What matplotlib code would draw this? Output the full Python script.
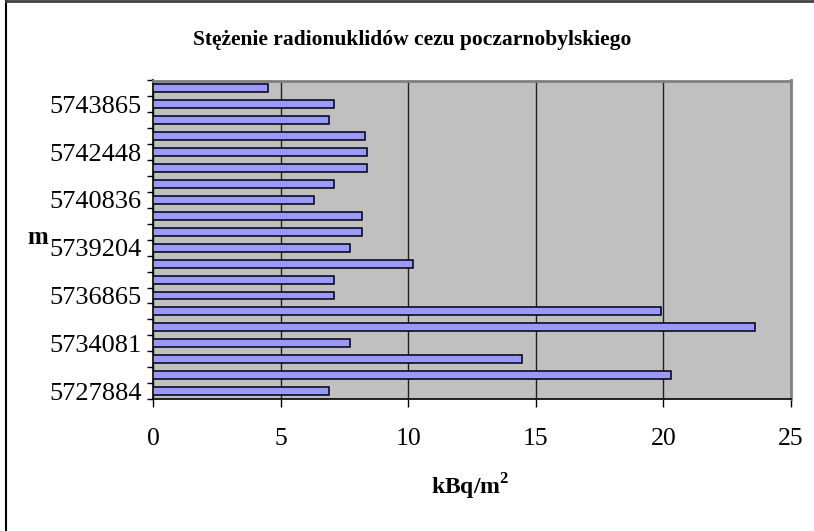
import matplotlib
matplotlib.use("Agg")
import matplotlib.pyplot as plt
from matplotlib.lines import Line2D
import numpy as np

# Data (bottom to top)
values = [6.9, 20.3, 14.45, 7.7, 23.6, 19.9, 7.1, 7.1, 10.2, 7.7,
          8.2, 8.2, 6.3, 7.1, 8.4, 8.4, 8.3, 6.9, 7.1, 4.5]
tick_labels = ["5727884", "", "", "5734081", "", "", "5736865", "", "", "5739204",
               "", "", "5740836", "", "", "5742448", "", "", "5743865", ""]
x_ticks = [0, 5, 10, 15, 20, 25]
title = "Stężenie radionuklidów cezu poczarnobylskiego"
xlabel = "kBq/m$^\\mathbf{2}$"
ylabel = "m"

plt.rcParams['font.family'] = ['Liberation Serif', 'DejaVu Serif']
plt.rcParams['mathtext.fontset'] = 'custom'
plt.rcParams['mathtext.rm'] = 'Liberation Serif'
plt.rcParams['mathtext.bf'] = 'Liberation Serif:bold'

fig = plt.figure(figsize=(8.14, 5.31), dpi=100)
ax = fig.add_axes([153/814, 1 - 399/531, (791-153)/814, (399-80.5)/531])
ax.set_facecolor('#C0C0C0')

pos = np.arange(len(values))
ax.barh(pos, values, height=0.5, color='#9999FF', edgecolor='black', linewidth=1.1, zorder=3)

ax.set_xlim(0, 25)
ax.set_ylim(-0.5, len(values) - 0.5)
ax.set_xticks(x_ticks)
ax.set_xticklabels([str(t) for t in x_ticks], fontsize=18.5)
ax.xaxis.grid(True, color='#202020', linewidth=1.0, zorder=1)
ax.set_axisbelow(True)

ax.set_yticks(pos)
ax.set_yticklabels(tick_labels, fontsize=19)
ax.set_yticks(np.arange(-0.5, len(values), 1.0), minor=True)
ax.tick_params(axis='y', which='major', length=0, pad=8)
ax.tick_params(axis='y', which='minor', length=4.5, width=1, direction='out', color='black')
ax.tick_params(axis='x', which='major', length=6, width=1, direction='out', color='black', pad=15)

for s in ['left', 'bottom']:
    ax.spines[s].set_color('black')
    ax.spines[s].set_linewidth(1.2)
for s in ['top', 'right']:
    ax.spines[s].set_color('#808080')
    ax.spines[s].set_linewidth(2)

fig.text(412/814, 1 - 40/531, title, ha='center', va='center', fontsize=15.5, fontweight='bold')
fig.text(470/814, 1 - 487/531, xlabel, ha='center', va='center', fontsize=17, fontweight='bold')
fig.text(38/814, 1 - 238/531, ylabel, ha='center', va='center', fontsize=18, fontweight='bold')

fig.add_artist(Line2D([6/814, 6/814], [0, 1], transform=fig.transFigure, color='black', linewidth=1.5))
fig.add_artist(Line2D([6/814, 1], [1 - 1/531, 1 - 1/531], transform=fig.transFigure, color='#404040', linewidth=2))

fig.savefig("out.png", dpi=100)
